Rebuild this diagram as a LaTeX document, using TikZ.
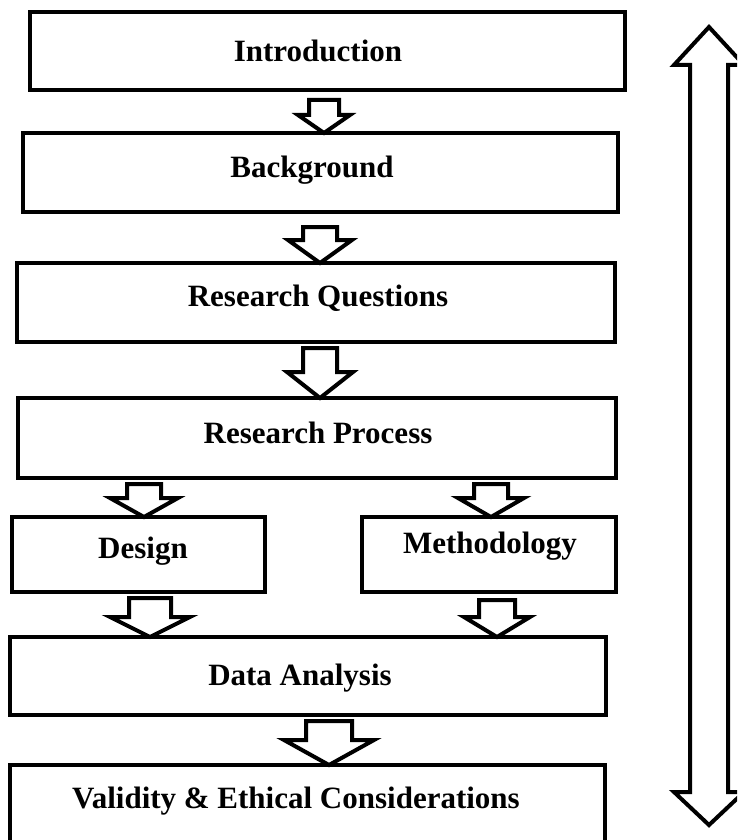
\documentclass[tikz,border=0pt]{standalone}
\usepackage{fontspec}
\setmainfont{Liberation Serif}
\usetikzlibrary{calc}
\tikzset{
  box/.style={draw=black, line width=4.5pt, rectangle, inner sep=0pt, outer sep=0pt, fill=white},
  lbl/.style={font=\fontsize{31}{36}\selectfont\bfseries, anchor=base, inner sep=0pt},
  arrowline/.style={draw=black, line width=4pt, line join=miter, fill=white}
}
% #1 from node, #2 to node, #3 x (px), #4 gap below source, #5 shaft half width, #6 head half width, #7 head length
\newcommand\blkarrow[7]{%
  \draw[arrowline] let \p1=(#1.south), \p2=(#2.north) in
    ({(#3-#5)*1pt},{\y1-#4*1pt}) -- ({(#3+#5)*1pt},{\y1-#4*1pt})
    -- ({(#3+#5)*1pt},{\y2+#7*1pt}) -- ({(#3+#6)*1pt},{\y2+#7*1pt})
    -- ({#3*1pt},\y2) -- ({(#3-#6)*1pt},{\y2+#7*1pt})
    -- ({(#3-#5)*1pt},{\y2+#7*1pt}) -- cycle;}
\begin{document}
\begin{tikzpicture}[x=1pt,y=-1pt]
\useasboundingbox (0,0) rectangle (737,840);
\clip (0,0) rectangle (737,840);
\fill[white] (0,0) rectangle (737,840);

% boxes
\node[box, minimum width=595pt, minimum height=78pt] (intro) at (327.5,51) {};
\node[box, minimum width=595pt, minimum height=79pt] (bg) at (320.5,172.5) {};
\node[box, minimum width=598pt, minimum height=79pt] (rq) at (316,302.5) {};
\node[box, minimum width=598pt, minimum height=80pt] (rp) at (317,438) {};
\node[box, minimum width=253pt, minimum height=75pt] (design) at (138.5,554.5) {};
\node[box, minimum width=254pt, minimum height=75pt] (meth) at (489,554.5) {};
\node[box, minimum width=596pt, minimum height=78pt] (da) at (308,676) {};
\node[box, minimum width=595pt, minimum height=95pt] (ve) at (307.5,812.5) {};

% labels
\node[lbl] (tintro) at (318,62) {Introduction};
\node[lbl] (tbg) at (312,177) {Background};
\node[lbl] (trq) at (318,306) {Research Questions};
\node[lbl] (trp) at (318,443) {Research Process};
\node[lbl] (tdesign) at (143,558) {Design};
\node[lbl] (tmeth) at (490,553) {Methodology};
\node[lbl] (tda) at (300,685) {Data Analysis};
\node[lbl] (tve) at (296,808) {Validity \& Ethical Considerations};

% block arrows between boxes
\blkarrow{intro}{bg}{324}{10}{15}{26}{18}
\blkarrow{bg}{rq}{320}{15}{17}{32}{23}
\blkarrow{rq}{rp}{320}{6}{17}{33}{26}
\blkarrow{rp}{design}{144}{6}{17}{34}{19}
\blkarrow{rp}{meth}{491}{6}{17}{33}{19}
\blkarrow{design}{da}{150}{6}{21}{40}{20}
\blkarrow{meth}{da}{497}{8}{18}{33}{20}
\blkarrow{da}{ve}{329}{6}{23}{45}{25}

% double-headed block arrow on the right
\draw[arrowline] (709,27) -- (744,65) -- (728,65) -- (728,792) -- (744,792)
  -- (709,825) -- (674,792) -- (690,792) -- (690,65) -- (674,65) -- cycle;
\end{tikzpicture}
\end{document}
